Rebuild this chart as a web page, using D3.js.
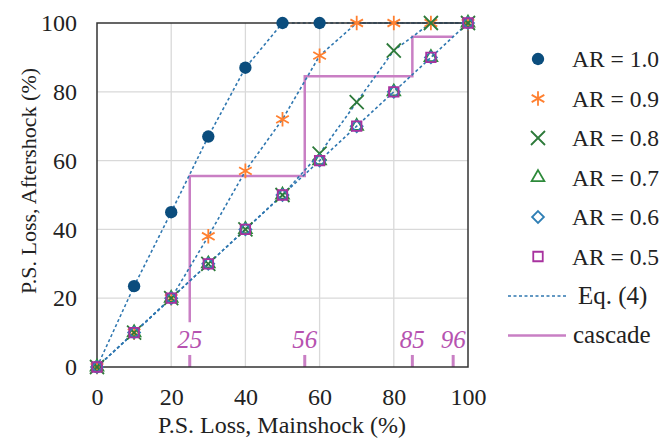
<!DOCTYPE html>
<html>
<head>
<meta charset="utf-8">
<script src="https://cdn.jsdelivr.net/npm/d3@7"></script>
<style>
  body { margin: 0; background: #fff; }
</style>
</head>
<body>
<div id="chart"></div>
<script>
var mainshock = [0, 10, 20, 30, 40, 50, 60, 70, 80, 90, 100];
var ar10 = [0, 23.5, 45, 67, 87, 100, 100];
var ar09 = [0, 10, 20, 38, 57, 72, 90.5, 100, 100, 100, 100];
var ar08 = [0, 10, 20, 30, 40, 50, 62, 77, 92, 100, 100];
var ar07 = [0, 10, 20, 30, 40, 50, 60, 70, 80, 90, 100];
var ar06 = [0, 10, 20, 30, 40, 50, 60, 70, 80, 90, 100];
var ar05 = [0, 10, 20, 30, 40, 50, 60, 70, 80, 90, 100];
// Eq. (4) curve for AR = 1.0 runs on along the top
var eq10 = [0, 23.5, 45, 67, 87, 100, 100, 100, 100, 100, 100];
var cascadeX = [25, 25, 56, 56, 85, 85, 96];
var cascadeY = [13, 55.5, 55.5, 84.5, 84.5, 96, 96];
var cascadeMarks = [25, 56, 85, 96];
var ticks = [0, 20, 40, 60, 80, 100];

var FONT = "Liberation Serif";
var w = 664, h = 442;
var margin = {top: 23, right: 196, bottom: 75, left: 97};

var svg = d3.select("#chart").append("svg")
  .attr("width", w).attr("height", h)
  .attr("font-family", FONT);

var x = d3.scaleLinear().domain([0, 100]).range([margin.left, w - margin.right]);
var y = d3.scaleLinear().domain([0, 100]).range([h - margin.bottom, margin.top]);

// grid
svg.append("g").selectAll("line").data(ticks.slice(1, 5)).enter().append("line")
  .attr("x1", function(d) { return x(d); }).attr("x2", function(d) { return x(d); })
  .attr("y1", y(0)).attr("y2", y(100))
  .attr("stroke", "#d9d9d9").attr("stroke-width", 1.3);
svg.append("g").selectAll("line").data(ticks.slice(1, 5)).enter().append("line")
  .attr("y1", function(d) { return y(d); }).attr("y2", function(d) { return y(d); })
  .attr("x1", x(0)).attr("x2", x(100))
  .attr("stroke", "#d9d9d9").attr("stroke-width", 1.3);

// axes
var xAxis = svg.append("g").attr("transform", "translate(0," + y(0) + ")")
  .call(d3.axisBottom(x).tickValues(ticks).tickSize(0).tickPadding(21));
var yAxis = svg.append("g").attr("transform", "translate(" + x(0) + ",0)")
  .call(d3.axisLeft(y).tickValues(ticks).tickSize(0).tickPadding(20));
[xAxis, yAxis].forEach(function(a) {
  a.attr("font-family", FONT);
  a.select(".domain").remove();
  a.selectAll("text").attr("font-size", 24).attr("fill", "#222");
});

svg.append("text").attr("x", 282).attr("y", 433)
  .attr("text-anchor", "middle").attr("font-size", 24).attr("fill", "#222")
  .text("P.S. Loss, Mainshock (%)");
svg.append("text").attr("transform", "translate(36,181) rotate(-90)")
  .attr("text-anchor", "middle").attr("font-size", 22).attr("fill", "#222")
  .text("P.S. Loss, Aftershock (%)");

var cascadeColor = "#c97fc4";
var eqColor = "#2f77b0";

// cascade
var cascadeLine = d3.line()
  .x(function(d) { return x(d[0]); })
  .y(function(d) { return y(d[1]); });
svg.append("path")
  .attr("d", cascadeLine(d3.zip(cascadeX, cascadeY)))
  .attr("fill", "none").attr("stroke", cascadeColor).attr("stroke-width", 2.5);
svg.append("g").selectAll("line").data(cascadeMarks).enter().append("line")
  .attr("x1", function(d) { return x(d); }).attr("x2", function(d) { return x(d); })
  .attr("y1", y(0)).attr("y2", y(3.5))
  .attr("stroke", cascadeColor).attr("stroke-width", 3);
svg.append("g").selectAll("text").data(cascadeMarks).enter().append("text")
  .attr("x", function(d) { return x(d); }).attr("y", y(5.5))
  .attr("text-anchor", "middle").attr("font-size", 25).attr("font-style", "italic")
  .attr("fill", "#b652b0").text(function(d) { return d; });

// Eq. (4) dashed curves
var eqLine = d3.line()
  .x(function(d) { return x(d[0]); })
  .y(function(d) { return y(d[1]); });
[eq10, ar09, ar08, ar05].forEach(function(s) {
  svg.append("path")
    .attr("d", eqLine(d3.zip(mainshock, s)))
    .attr("fill", "none").attr("stroke", eqColor)
    .attr("stroke-width", 1.6).attr("stroke-dasharray", "3,2.5");
});

// frame
svg.append("rect")
  .attr("x", x(0)).attr("y", y(100))
  .attr("width", x(100) - x(0)).attr("height", y(0) - y(100))
  .attr("fill", "none").attr("stroke", "#333").attr("stroke-width", 1.5);

// wide diamond (rotated square) like the reference
var wideDiamond = {
  draw: function(context, size) {
    var r = Math.sqrt(size / 2);
    context.moveTo(0, -r);
    context.lineTo(r, 0);
    context.lineTo(0, r);
    context.lineTo(-r, 0);
    context.closePath();
  }
};

var series = [
  {label: "AR = 1.0", values: ar10, sym: d3.symbolCircle, size: 120, fill: "#0b4d7d", stroke: "none"},
  {label: "AR = 0.9", values: ar09, sym: d3.symbolAsterisk, size: 150, fill: "none", stroke: "#ff8030"},
  {label: "AR = 0.8", values: ar08, sym: d3.symbolTimes, size: 130, fill: "none", stroke: "#2d7a3a"},
  {label: "AR = 0.7", values: ar07, sym: d3.symbolTriangle, size: 70, fill: "none", stroke: "#2d8a3a"},
  {label: "AR = 0.6", values: ar06, sym: wideDiamond, size: 70, fill: "none", stroke: "#2f7fb5"},
  {label: "AR = 0.5", values: ar05, sym: d3.symbolSquare, size: 90, fill: "none", stroke: "#a8329f"}
];

series.forEach(function(s) {
  var pts = s.values.map(function(v, i) { return [mainshock[i], v]; });
  svg.append("g").selectAll("path").data(pts).enter().append("path")
    .attr("transform", function(d) { return "translate(" + x(d[0]) + "," + y(d[1]) + ")"; })
    .attr("d", d3.symbol().type(s.sym).size(s.size))
    .attr("fill", s.fill).attr("stroke", s.stroke).attr("stroke-width", 1.8);
});

// legend
var lx = 538, ly0 = 59, step = 39.5;
var legend = svg.append("g");
series.forEach(function(s, i) {
  var yy = ly0 + i * step;
  legend.append("path")
    .attr("transform", "translate(" + lx + "," + yy + ")")
    .attr("d", d3.symbol().type(s.sym).size(s.size))
    .attr("fill", s.fill).attr("stroke", s.stroke).attr("stroke-width", 1.8);
  legend.append("text").attr("x", 572).attr("y", yy + 8)
    .attr("font-size", 23.5).attr("fill", "#222").text(s.label);
});
var yEq = ly0 + 6 * step;
legend.append("line").attr("x1", 508).attr("x2", 566).attr("y1", yEq).attr("y2", yEq)
  .attr("stroke", eqColor).attr("stroke-width", 1.6).attr("stroke-dasharray", "3,2.5");
legend.append("text").attr("x", 578).attr("y", yEq + 8)
  .attr("font-size", 25).attr("fill", "#222").text("Eq. (4)");
var yCas = ly0 + 7 * step;
legend.append("line").attr("x1", 508).attr("x2", 566).attr("y1", yCas).attr("y2", yCas)
  .attr("stroke", cascadeColor).attr("stroke-width", 2.5);
legend.append("text").attr("x", 573).attr("y", yCas + 7)
  .attr("font-size", 25).attr("fill", "#222").text("cascade");

// make sure every label gets the serif face
svg.selectAll("text").attr("font-family", FONT);
</script>
</body>
</html>
